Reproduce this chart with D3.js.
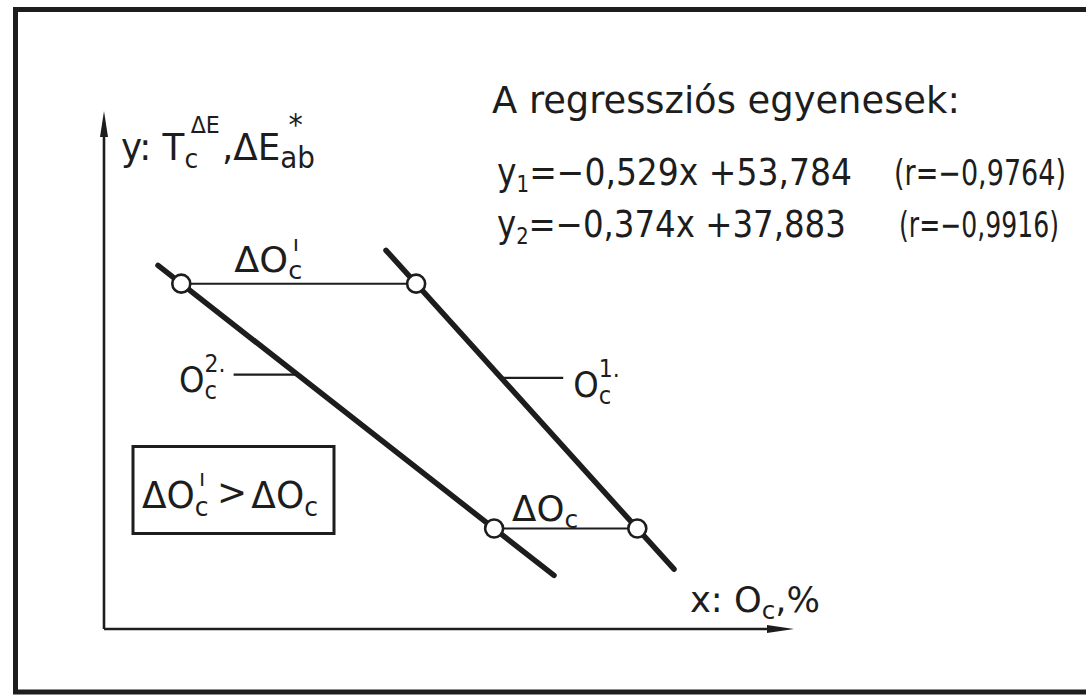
<!DOCTYPE html>
<html><head><meta charset="utf-8">
<script src="https://cdn.jsdelivr.net/npm/d3@7"></script>
<style>
html,body{margin:0;padding:0;background:#fff;}
svg{display:block;}
text{font-family:"DejaVu Sans Condensed","Liberation Sans Narrow","DejaVu Sans",sans-serif;fill:#1d1d1d;}
</style></head><body>
<svg id="chart" width="1086" height="699"></svg>
<script>
// Regression lines y = slope * x + intercept  (x: O_c %, y: T_c^ΔE, ΔE*ab)
const seriesNames = ["y1", "y2"];
const slopes = [-0.529, -0.374];
const intercepts = [53.784, 37.883];
const slopeLabels = ["−0,529", "−0,374"];
const interceptLabels = ["53,784", "37,883"];
const rLabels = ["−0,9764", "−0,9916"];
// drawn stretch of each line along x
const lineXFrom = [62.8, 47.6];
const lineXTo = [82.0, 74.0];
// ΔE levels where the O_c differences are read (upper: ΔO'c, lower: ΔOc)
const compareLevels = [19.5, 11.7];
// levels of the O_c^1. / O_c^2. markers on each line
const markerLevels = [16.5, 16.6];
// axis extents
const xDomain = [44, 90];
const yDomain = [8.5, 25];

const svg = d3.select("#chart");
const ink = "#1d1d1d";
const x = d3.scaleLinear().domain(xDomain).range([104, 794]);
const y = d3.scaleLinear().domain(yDomain).range([629, 111]);
const xAt = (i, level) => (level - intercepts[i]) / slopes[i];

// outer frame (open on the right)
svg.append("path")
  .attr("d", "M1086,9.5 H15.5 V692 H1086")
  .attr("fill", "none").attr("stroke", ink).attr("stroke-width", 5);

// axes with long narrow arrowheads
const ax0 = x(xDomain[0]), ay0 = y(yDomain[0]);
const axTop = y(yDomain[1]), axRight = x(xDomain[1]);
svg.append("line").attr("x1", ax0).attr("y1", ay0).attr("x2", ax0).attr("y2", axTop + 20)
  .attr("stroke", ink).attr("stroke-width", 2.6);
svg.append("line").attr("x1", ax0).attr("y1", ay0).attr("x2", axRight - 20).attr("y2", ay0)
  .attr("stroke", ink).attr("stroke-width", 2.6);
svg.append("path")
  .attr("d", `M${ax0},${axTop} L${ax0 + 4},${axTop + 26} L${ax0 - 4},${axTop + 26} Z`)
  .attr("fill", ink);
svg.append("path")
  .attr("d", `M${axRight},${ay0} L${axRight - 27},${ay0 - 4} L${axRight - 27},${ay0 + 4} Z`)
  .attr("fill", ink);

// label made of base text, subscripts and (optionally stacked) superscripts
function rich(px, py, segs, size, opt = {}) {
  const g = svg.append("g");
  let cx = 0, subX = 0;
  segs.forEach(s => {
    const p = s.p || "base";
    const fs = p === "base" ? size : size * (s.k || 0.62);
    const dy = p === "sub" ? size * 0.2 : p === "sup" ? -size * 0.5 : 0;
    const sx = (p === "sup" && s.stack) ? subX : cx;
    const t = g.append("text").attr("x", sx + (s.dx || 0)).attr("y", dy + (s.dy || 0))
      .attr("font-size", fs).text(s.t);
    const w = t.node().getComputedTextLength();
    if (p === "sub") subX = sx;
    if (p === "sup" && s.stack) cx = Math.max(cx, sx + w + (s.dx || 0));
    else cx = sx + w + (s.dx || 0) + (s.gap || 0);
  });
  const k = opt.width ? opt.width / cx : 1;
  const shift = opt.anchor === "end" ? -cx * k : 0;
  g.attr("transform", `translate(${px + shift},${py}) scale(${k},1)`);
  return g;
}

// regression lines
seriesNames.forEach((name, i) => {
  svg.append("line").attr("class", "reg-" + name)
    .attr("x1", x(lineXFrom[i])).attr("y1", y(slopes[i] * lineXFrom[i] + intercepts[i]))
    .attr("x2", x(lineXTo[i])).attr("y2", y(slopes[i] * lineXTo[i] + intercepts[i]))
    .attr("stroke", ink).attr("stroke-width", 5.5).attr("stroke-linecap", "round");
});

// O_c^1. and O_c^2. markers
const m1x = x(xAt(0, markerLevels[0])), m1y = y(markerLevels[0]);
const m2x = x(xAt(1, markerLevels[1])), m2y = y(markerLevels[1]);
svg.append("line").attr("x1", m1x).attr("y1", m1y).attr("x2", m1x + 62).attr("y2", m1y)
  .attr("stroke", ink).attr("stroke-width", 2.2);
svg.append("line").attr("x1", m2x).attr("y1", m2y).attr("x2", m2x - 64).attr("y2", m2y)
  .attr("stroke", ink).attr("stroke-width", 2.2);

// horizontal O_c differences at the two levels, with open circles on the lines
compareLevels.forEach(level => {
  const xa = x(xAt(1, level)), xb = x(xAt(0, level)), yy = y(level);
  svg.append("line").attr("x1", xa).attr("y1", yy).attr("x2", xb).attr("y2", yy)
    .attr("stroke", ink).attr("stroke-width", 2);
  [xa, xb].forEach(cx => svg.append("circle").attr("cx", cx).attr("cy", yy).attr("r", 9)
    .attr("fill", "#fff").attr("stroke", ink).attr("stroke-width", 2.6));
});

// axis titles
rich(121, 160, [
  {t: "y: T"}, {t: "c", p: "sub", k: 0.7}, {t: "ΔE", p: "sup", stack: true, k: 0.62, dx: 6, dy: -8},
  {t: " ,", dx: 2}, {t: "ΔE"}, {t: "ab", p: "sub", k: 0.78}, {t: "*", p: "sup", stack: true, k: 0.8, dx: 8, dy: -6}
], 38, {width: 194});
rich(690, 612, [
  {t: "x: O"}, {t: "c", p: "sub", k: 0.7}, {t: " ,"}, {t: " %"}
], 36, {width: 130});

// difference labels
const upY = y(compareLevels[0]), loY = y(compareLevels[1]);
const upX = x(xAt(1, compareLevels[0])), loX = x(xAt(1, compareLevels[1]));
rich(upX + 53, upY - 12, [
  {t: "ΔO"}, {t: "c", p: "sub", k: 0.7}, {t: "ı", p: "sup", stack: true, k: 0.62, dx: 4, dy: -3}
], 35, {width: 68});
rich(loX + 18, loY - 8, [
  {t: "ΔO"}, {t: "c", p: "sub", k: 0.7}
], 35, {width: 66});
rich(m2x - 72, m2y + 17, [
  {t: "O"}, {t: "c", p: "sub", k: 0.7}, {t: "2.", p: "sup", stack: true, k: 0.68, dy: -2}
], 36, {anchor: "end"});
rich(m1x + 72, m1y + 19, [
  {t: "O"}, {t: "c", p: "sub", k: 0.7}, {t: "1.", p: "sup", stack: true, k: 0.68, dy: -2}
], 36);

// boxed comparison
svg.append("rect").attr("x", 133).attr("y", 446.5).attr("width", 201).attr("height", 87)
  .attr("fill", "none").attr("stroke", ink).attr("stroke-width", 3);
rich(142, 508, [
  {t: "ΔO"}, {t: "c", p: "sub", k: 0.7}, {t: "ı", p: "sup", stack: true, k: 0.62, dx: 4, dy: -3},
  {t: ">", dx: 8, dy: -3, gap: 4}, {t: "ΔO"}, {t: "c", p: "sub", k: 0.7}
], 38, {width: 176});

// regression equations
rich(492, 113, [{t: "A regressziós egyenesek:"}], 38, {width: 468});
const eqBase = [185, 237];
const eqW = [355, 349], rX = [894, 899], rW = [172, 160];
seriesNames.forEach((name, i) => {
  rich(497, eqBase[i], [
    {t: "y"}, {t: String(i + 1), p: "sub", k: 0.6},
    {t: "=" + slopeLabels[i] + "x +" + interceptLabels[i]}
  ], 37, {width: eqW[i]});
  rich(rX[i], eqBase[i], [{t: "(r=" + rLabels[i] + ")"}], 35, {width: rW[i]});
});
</script>
</body></html>
